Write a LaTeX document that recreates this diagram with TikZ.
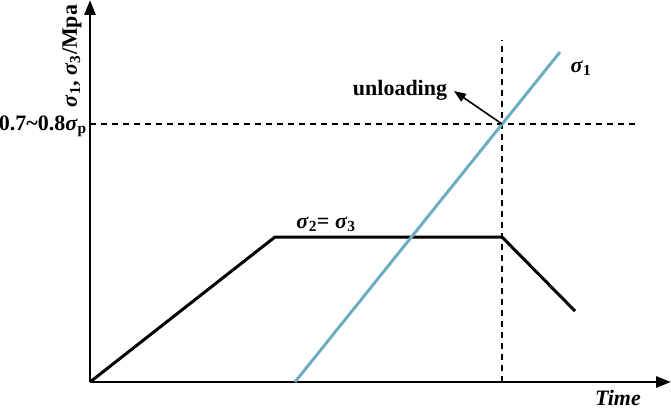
\documentclass[tikz,border=0pt]{standalone}
\usepackage{fontspec}
\setmainfont{Liberation Serif}
\usetikzlibrary{arrows.meta}
\definecolor{loadblue}{RGB}{107,174,194}
\newcommand{\sg}{\textit{σ}}
\tikzset{
  axis/.style={line width=2.8pt, -{Triangle[length=15pt,width=11pt]}},
  guide/.style={line width=1.4pt, dash pattern=on 6pt off 5pt},
  curve/.style={line width=3pt, line join=miter},
  lbl/.style={inner sep=1pt}
}
\begin{document}
\begin{tikzpicture}[x=1pt, y=1pt, font=\fontsize{22}{26}\selectfont\bfseries]
\useasboundingbox (-90,-28) rectangle (581,382);

% axes
\coordinate (O) at (0,0);
\coordinate (ytip) at (0,382);
\coordinate (xtip) at (581,0);
\draw[axis] (O) -- (ytip);
\draw[axis] (O) -- (xtip);

% guide lines
\coordinate (peak) at (412,258);
\coordinate (vbot) at (412,0);
\coordinate (vtop) at (412,342);
\coordinate (hleft) at (0,258);
\coordinate (hright) at (547,258);
\draw[guide] (vbot) -- (vtop);
\draw[guide] (hleft) -- (hright);

% sigma2 = sigma3
\coordinate (c1) at (185,145);
\coordinate (c2) at (412,145);
\coordinate (c3) at (485,71);
\draw[curve] (O) -- (c1) -- (c2) -- (c3);

% sigma1
\coordinate (b0) at (205,0);
\coordinate (b1) at (470,330);
\draw[curve, loadblue] (b0) -- (b1);

% unloading
\coordinate (utip) at (364,291);
\draw[line width=1.6pt, -{Triangle[length=12pt,width=9pt]}] (peak) -- (utip);

\node[lbl] (unload) at (310,292) {unloading};
\node[lbl] (s1) at (491,314) {\sg\textsubscript{1}};
\node[lbl] (s23) at (236,158) {\sg\textsubscript{2}= \sg\textsubscript{3}};
\node[lbl, anchor=east] (level) at (-2,256) {0.7\char"7E 0.8\sg\textsubscript{p}};
\node[lbl, rotate=90] (ylab) at (-18,326) {\sg\textsubscript{1}, \sg\textsubscript{3}/Mpa};
\node[lbl] (tlab) at (528,-16) {\textit{Time}};
\end{tikzpicture}
\end{document}
